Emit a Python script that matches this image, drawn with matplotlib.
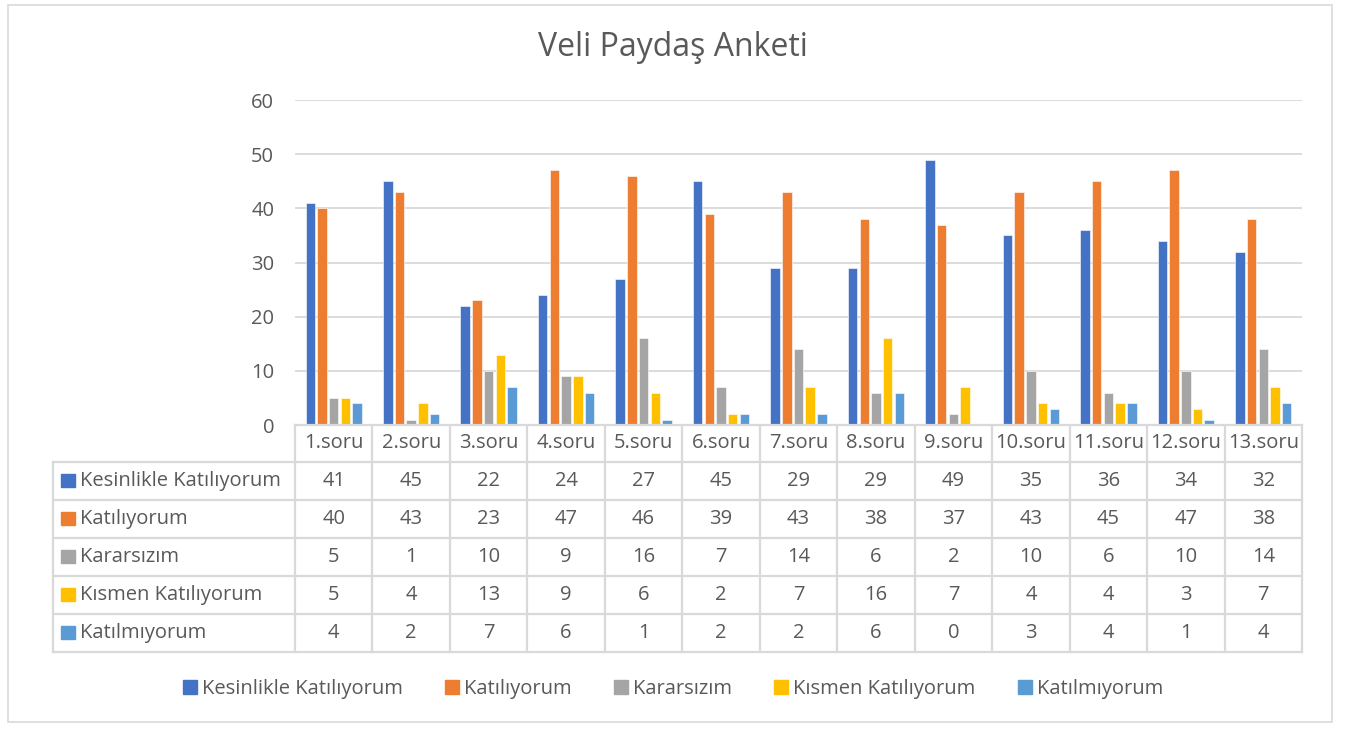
import matplotlib.pyplot as plt
from matplotlib.patches import Rectangle
from matplotlib.lines import Line2D

plt.rcParams['font.family'] = ['Open Sans', 'DejaVu Sans']

# ── Data ──────────────────────────────────────────────────────────────────────
questions = [f'{i}.soru' for i in range(1, 14)]
series_names = ['Kesinlikle Katılıyorum', 'Katılıyorum', 'Kararsızım',
                'Kısmen Katılıyorum', 'Katılmıyorum']
kesinlikle   = [41, 45, 22, 24, 27, 45, 29, 29, 49, 35, 36, 34, 32]
katiliyorum  = [40, 43, 23, 47, 46, 39, 43, 38, 37, 43, 45, 47, 38]
kararsizim   = [5, 1, 10, 9, 16, 7, 14, 6, 2, 10, 6, 10, 14]
kismen       = [5, 4, 13, 9, 6, 2, 7, 16, 7, 4, 4, 3, 7]
katilmiyorum = [4, 2, 7, 6, 1, 2, 2, 6, 0, 3, 4, 1, 4]
series = [kesinlikle, katiliyorum, kararsizim, kismen, katilmiyorum]
colors = ['#4472C4', '#ED7D31', '#A5A5A5', '#FFC000', '#5B9BD5']

TXT = '#595959'
GRID = '#D9D9D9'
FS = 14.5

# ── Figure layout (pixel based) ───────────────────────────────────────────────
W, H = 1346, 729
fig = plt.figure(figsize=(W / 100, H / 100), dpi=100)

def fx(x):
    return x / W

def fy(y):
    return 1 - y / H

ax_left, ax_right, ax_top, ax_bot = 295, 1302, 100, 425
ax = fig.add_axes([fx(ax_left), fy(ax_bot), fx(ax_right - ax_left), (ax_bot - ax_top) / H])

# outer chart border
fig.patches.append(Rectangle((fx(8), fy(722)), fx(1332 - 8), (722 - 5) / H,
                             transform=fig.transFigure, fill=False,
                             edgecolor=GRID, lw=1.2))

# ── Bars ──────────────────────────────────────────────────────────────────────
n = len(questions)
step, bw = 0.151, 0.123
for i, (vals, c) in enumerate(zip(series, colors)):
    xs = [k + (i - 2) * step for k in range(n)]
    ax.bar(xs, vals, width=bw, color=c, edgecolor='white', lw=0.4, zorder=3)

ax.set_xlim(-0.5, n - 0.5)
ax.set_ylim(0, 60)
ax.set_yticks(range(0, 61, 10))
ax.yaxis.grid(True, color=GRID, lw=1.3, zorder=0)
ax.set_xticks([])
for s in ax.spines.values():
    s.set_visible(False)
ax.tick_params(axis='y', length=0, pad=15, labelsize=FS, labelcolor=TXT)

fig.text(0.5, fy(47), 'Veli Paydaş Anketi', ha='center', va='center',
         fontsize=23, color=TXT)

# ── Data table under the axis ─────────────────────────────────────────────────
tab_left = 53
row_h = 38
hdr_bot = ax_bot + 37
col_w = (ax_right - ax_left) / n

def hline(x0, x1, y):
    fig.lines.append(Line2D([fx(x0), fx(x1)], [fy(y), fy(y)],
                            transform=fig.transFigure, color=GRID, lw=1.6))

def vline(x, y0, y1):
    fig.lines.append(Line2D([fx(x), fx(x)], [fy(y0), fy(y1)],
                            transform=fig.transFigure, color=GRID, lw=1.6))

tab_bot = hdr_bot + row_h * len(series)
hline(ax_left, ax_right, ax_bot)
for r in range(len(series) + 1):
    hline(tab_left, ax_right, hdr_bot + r * row_h)
vline(tab_left, hdr_bot, tab_bot)
for k in range(n + 1):
    vline(ax_left + k * col_w, ax_bot, tab_bot)

for k, q in enumerate(questions):
    cx = ax_left + (k + 0.5) * col_w
    fig.text(fx(cx), fy((ax_bot + hdr_bot) / 2), q, ha='center', va='center',
             fontsize=FS, color=TXT)
    for r, vals in enumerate(series):
        cy = hdr_bot + (r + 0.5) * row_h
        fig.text(fx(cx), fy(cy), str(vals[k]), ha='center', va='center',
                 fontsize=FS, color=TXT)

for r, (name, c) in enumerate(zip(series_names, colors)):
    cy = hdr_bot + (r + 0.5) * row_h
    fig.patches.append(Rectangle((fx(61), fy(cy + 6)), fx(14), 13 / H,
                                 transform=fig.transFigure, color=c))
    fig.text(fx(80), fy(cy), name, ha='left', va='center',
             fontsize=FS, color=TXT)

# ── Bottom legend ─────────────────────────────────────────────────────────────
handles = [Rectangle((0, 0), 1, 1, color=c) for c in colors]
fig.legend(handles, series_names, loc='center', bbox_to_anchor=(0.5, fy(689)),
           ncol=5, frameon=False, fontsize=FS, labelcolor=TXT,
           handlelength=0.7, handleheight=0.7, handletextpad=0.25,
           columnspacing=2.1)

fig.savefig('out.png', dpi=100)
